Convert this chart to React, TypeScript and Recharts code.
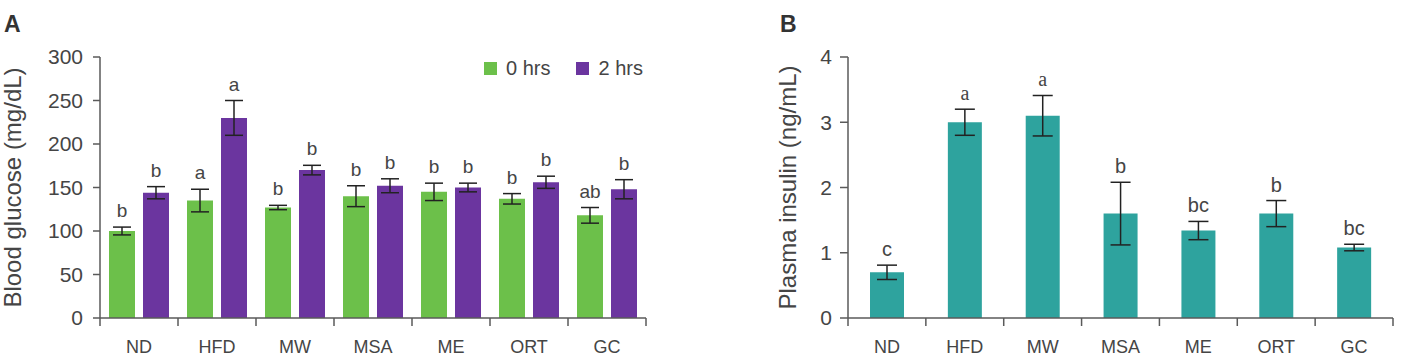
import React from 'react';
import { BarChart, Bar, XAxis, YAxis, ErrorBar, LabelList, Legend } from 'recharts';

const groups = ['ND', 'HFD', 'MW', 'MSA', 'ME', 'ORT', 'GC'];

// panel A - blood glucose (mg/dL)
const glucose0h = [100, 135, 127, 140, 145, 137, 118];
const glucose0hErr = [4.5, 13, 2.5, 12, 10, 6, 9];
const glucose0hSig = ['b', 'a', 'b', 'b', 'b', 'b', 'ab'];
const glucose2h = [144, 230, 170, 152, 150, 156, 148];
const glucose2hErr = [7, 20, 5.5, 8, 5, 7, 11];
const glucose2hSig = ['b', 'a', 'b', 'b', 'b', 'b', 'b'];
const glucoseTicks = [0, 50, 100, 150, 200, 250, 300];

// panel B - plasma insulin (ng/mL)
const insulin = [0.7, 3.0, 3.1, 1.6, 1.34, 1.6, 1.08];
const insulinErr = [0.11, 0.2, 0.31, 0.48, 0.14, 0.2, 0.05];
const insulinSig = ['c', 'a', 'a', 'b', 'bc', 'b', 'bc'];
const insulinTicks = [0, 1, 2, 3, 4];

const GREEN = '#6cc04a';
const PURPLE = '#6b359f';
const TEAL = '#2ea39e';
const AXIS = '#5a5a5a';
const TEXT = '#454545';
const FONT = '"Liberation Sans", Arial, sans-serif';

const glucoseData = groups.map((g, i) => ({
  group: g,
  h0: glucose0h[i],
  h0Err: glucose0hErr[i],
  h0Sig: glucose0hSig[i],
  h2: glucose2h[i],
  h2Err: glucose2hErr[i],
  h2Sig: glucose2hSig[i],
}));

const insulinData = groups.map((g, i) => ({
  group: g,
  ins: insulin[i],
  insErr: insulinErr[i],
  insSig: insulinSig[i],
}));

// category labels sit between ticks, so the tick marks go on the band edges
const GroupTick = ({ x, y, payload, index, visibleTicksCount, half }: any) => (
  <g>
    <line x1={x - half} y1={y} x2={x - half} y2={y + 8} stroke={AXIS} strokeWidth={1.5} />
    {index === visibleTicksCount - 1 && (
      <line x1={x + half} y1={y} x2={x + half} y2={y + 8} stroke={AXIS} strokeWidth={1.5} />
    )}
    <text x={x} y={y + 35} textAnchor="middle" fill={TEXT} fontSize={18} fontFamily={FONT}>
      {payload.value}
    </text>
  </g>
);

const AxisTitle = ({ viewBox, text, baseX }: any) => {
  const cy = viewBox.y + viewBox.height / 2;
  return (
    <text
      x={baseX}
      y={cy}
      transform={`rotate(-90, ${baseX}, ${cy})`}
      textAnchor="middle"
      fill={TEXT}
      fontSize={24}
      fontFamily={FONT}
    >
      {text}
    </text>
  );
};

const sigLabel = (gap: number, size: number, serifFor?: string) => (props: any) => {
  const vb = props.viewBox ?? props;
  const serif = serifFor && props.value === serifFor;
  return (
    <text
      x={vb.x + vb.width / 2}
      y={vb.y - gap}
      textAnchor="middle"
      fill={TEXT}
      fontSize={size}
      fontFamily={serif ? '"Liberation Serif", serif' : FONT}
    >
      {props.value}
    </text>
  );
};

const LegendBox = ({ payload }: any) => (
  <div style={{ display: 'flex', alignItems: 'center', fontFamily: FONT, fontSize: 20, color: TEXT }}>
    {(payload || [])
      .filter((p: any) => p.type !== 'none')
      .map((p: any) => (
        <span key={p.value} style={{ display: 'flex', alignItems: 'center', marginRight: 26 }}>
          <span style={{ display: 'inline-block', width: 13, height: 13, background: p.color, marginRight: 9 }} />
          {p.value}
        </span>
      ))}
  </div>
);

const panelTitle: React.CSSProperties = {
  position: 'absolute',
  top: 13,
  fontFamily: FONT,
  fontWeight: 700,
  fontSize: 23,
  lineHeight: '23px',
  color: '#333',
};

export default function App() {
  const aW = 700;
  const bW = 708;
  const aPlot = aW - 100 - 54;
  const bPlot = bW - 148 - 15;

  return (
    <div style={{ position: 'absolute', left: 0, top: 0, width: 1408, height: 360, background: '#fff' }}>
      <div style={{ ...panelTitle, left: 4 }}>A</div>
      <div style={{ ...panelTitle, left: 780 }}>B</div>

      <div style={{ position: 'absolute', left: 0, top: 0 }}>
        <BarChart
          width={aW}
          height={360}
          data={glucoseData}
          margin={{ top: 57, right: 54, bottom: 0, left: 0 }}
          barSize={26}
          barGap={8}
        >
          <XAxis
            dataKey="group"
            height={42}
            interval={0}
            tickSize={0}
            tickMargin={0}
            tickLine={false}
            axisLine={{ stroke: AXIS, strokeWidth: 1.5 }}
            tick={<GroupTick half={aPlot / groups.length / 2} />}
          />
          <YAxis
            width={100}
            domain={[0, 300]}
            ticks={glucoseTicks}
            interval={0}
            tickSize={7}
            tickMargin={10}
            axisLine={{ stroke: AXIS, strokeWidth: 1.5 }}
            tickLine={{ stroke: AXIS, strokeWidth: 1.5 }}
            tick={{ fill: TEXT, fontSize: 21, fontFamily: FONT }}
            label={<AxisTitle text="Blood glucose (mg/dL)" baseX={21} />}
          />
          <Legend
            layout="horizontal"
            verticalAlign="middle"
            align="center"
            wrapperStyle={{ top: 57, left: 484, width: 'auto' }}
            content={<LegendBox />}
          />
          <Bar dataKey="h0" name="0 hrs" stackId="g" fill={GREEN} isAnimationActive={false}>
            <ErrorBar dataKey="h0Err" width={9} stroke="#222" strokeWidth={1.5} />
          </Bar>
          <Bar dataKey="h0Err" stackId="g" fill="transparent" legendType="none" isAnimationActive={false}>
            <LabelList dataKey="h0Sig" content={sigLabel(10, 19)} />
          </Bar>
          <Bar dataKey="h2" name="2 hrs" stackId="p" fill={PURPLE} isAnimationActive={false}>
            <ErrorBar dataKey="h2Err" width={9} stroke="#222" strokeWidth={1.5} />
          </Bar>
          <Bar dataKey="h2Err" stackId="p" fill="transparent" legendType="none" isAnimationActive={false}>
            <LabelList dataKey="h2Sig" content={sigLabel(10, 19)} />
          </Bar>
        </BarChart>
      </div>

      <div style={{ position: 'absolute', left: 700, top: 0 }}>
        <BarChart
          width={bW}
          height={360}
          data={insulinData}
          margin={{ top: 57, right: 15, bottom: 0, left: 0 }}
          barSize={34}
        >
          <XAxis
            dataKey="group"
            height={42}
            interval={0}
            tickSize={0}
            tickMargin={0}
            tickLine={false}
            axisLine={{ stroke: AXIS, strokeWidth: 1.5 }}
            tick={<GroupTick half={bPlot / groups.length / 2} />}
          />
          <YAxis
            width={148}
            domain={[0, 4]}
            ticks={insulinTicks}
            interval={0}
            tickSize={8}
            tickMargin={8}
            axisLine={{ stroke: AXIS, strokeWidth: 1.5 }}
            tickLine={{ stroke: AXIS, strokeWidth: 1.5 }}
            tick={{ fill: TEXT, fontSize: 21, fontFamily: FONT }}
            label={<AxisTitle text="Plasma insulin (ng/mL)" baseX={96} />}
          />
          <Bar dataKey="ins" name="Plasma insulin" stackId="i" fill={TEAL} isAnimationActive={false}>
            <ErrorBar dataKey="insErr" width={10} stroke="#222" strokeWidth={1.5} />
          </Bar>
          <Bar dataKey="insErr" stackId="i" fill="transparent" legendType="none" isAnimationActive={false}>
            <LabelList dataKey="insSig" content={sigLabel(9, 20, 'a')} />
          </Bar>
        </BarChart>
      </div>
    </div>
  );
}
